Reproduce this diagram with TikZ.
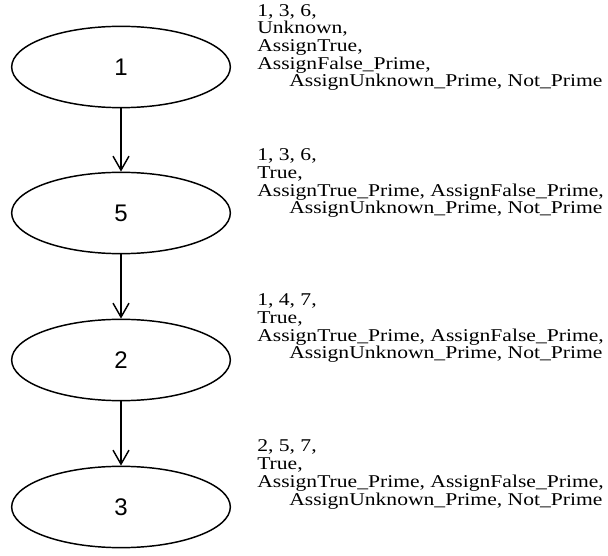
\documentclass[tikz,border=0pt]{standalone}
\usepackage{fontspec}
\setmainfont{Liberation Serif}
\newfontfamily\statefont{Liberation Sans}
\newfontfamily\notefont[FakeStretch=1.2]{Liberation Serif}
\usepackage{tikz}
\usetikzlibrary{shapes.geometric,arrows.meta}

\begin{document}
\begin{tikzpicture}[x=0.75pt,y=-0.75pt,
  state/.style={ellipse,draw,line width=1.1pt,minimum width=164pt,minimum height=61pt,
    inner sep=0pt,font=\statefont\fontsize{18}{18}\selectfont},
  note/.style={anchor=base west,align=left,inner sep=0pt,
    font=\notefont\fontsize{13.5}{13.3}\selectfont},
  >={Straight Barb[length=10.5pt,width=12pt,line width=1.1pt]}]
\useasboundingbox (0,0) rectangle (608,556);

\node [state] (v1) at (121,67) {1};
\node [state] (v5) at (121,213) {5};
\node [state] (v2) at (121,360) {2};
\node [state] (v3) at (121,507) {3};

\node [note] (t1) at (257,87) {1, 3, 6,\\Unknown,\\AssignTrue,\\AssignFalse\_Prime,\\\hspace*{24pt}AssignUnknown\_Prime, Not\_Prime};
\node [note] (t5) at (257,214) {1, 3, 6,\\True,\\AssignTrue\_Prime, AssignFalse\_Prime,\\\hspace*{24pt}AssignUnknown\_Prime, Not\_Prime};
\node [note] (t2) at (257,359) {1, 4, 7,\\True,\\AssignTrue\_Prime, AssignFalse\_Prime,\\\hspace*{24pt}AssignUnknown\_Prime, Not\_Prime};
\node [note] (t3) at (257,505) {2, 5, 7,\\True,\\AssignTrue\_Prime, AssignFalse\_Prime,\\\hspace*{24pt}AssignUnknown\_Prime, Not\_Prime};

\draw [->,line width=1.1pt] (v1) -- (v5);
\draw [->,line width=1.1pt] (v5) -- (v2);
\draw [->,line width=1.1pt] (v2) -- (v3);
\end{tikzpicture}
\end{document}
